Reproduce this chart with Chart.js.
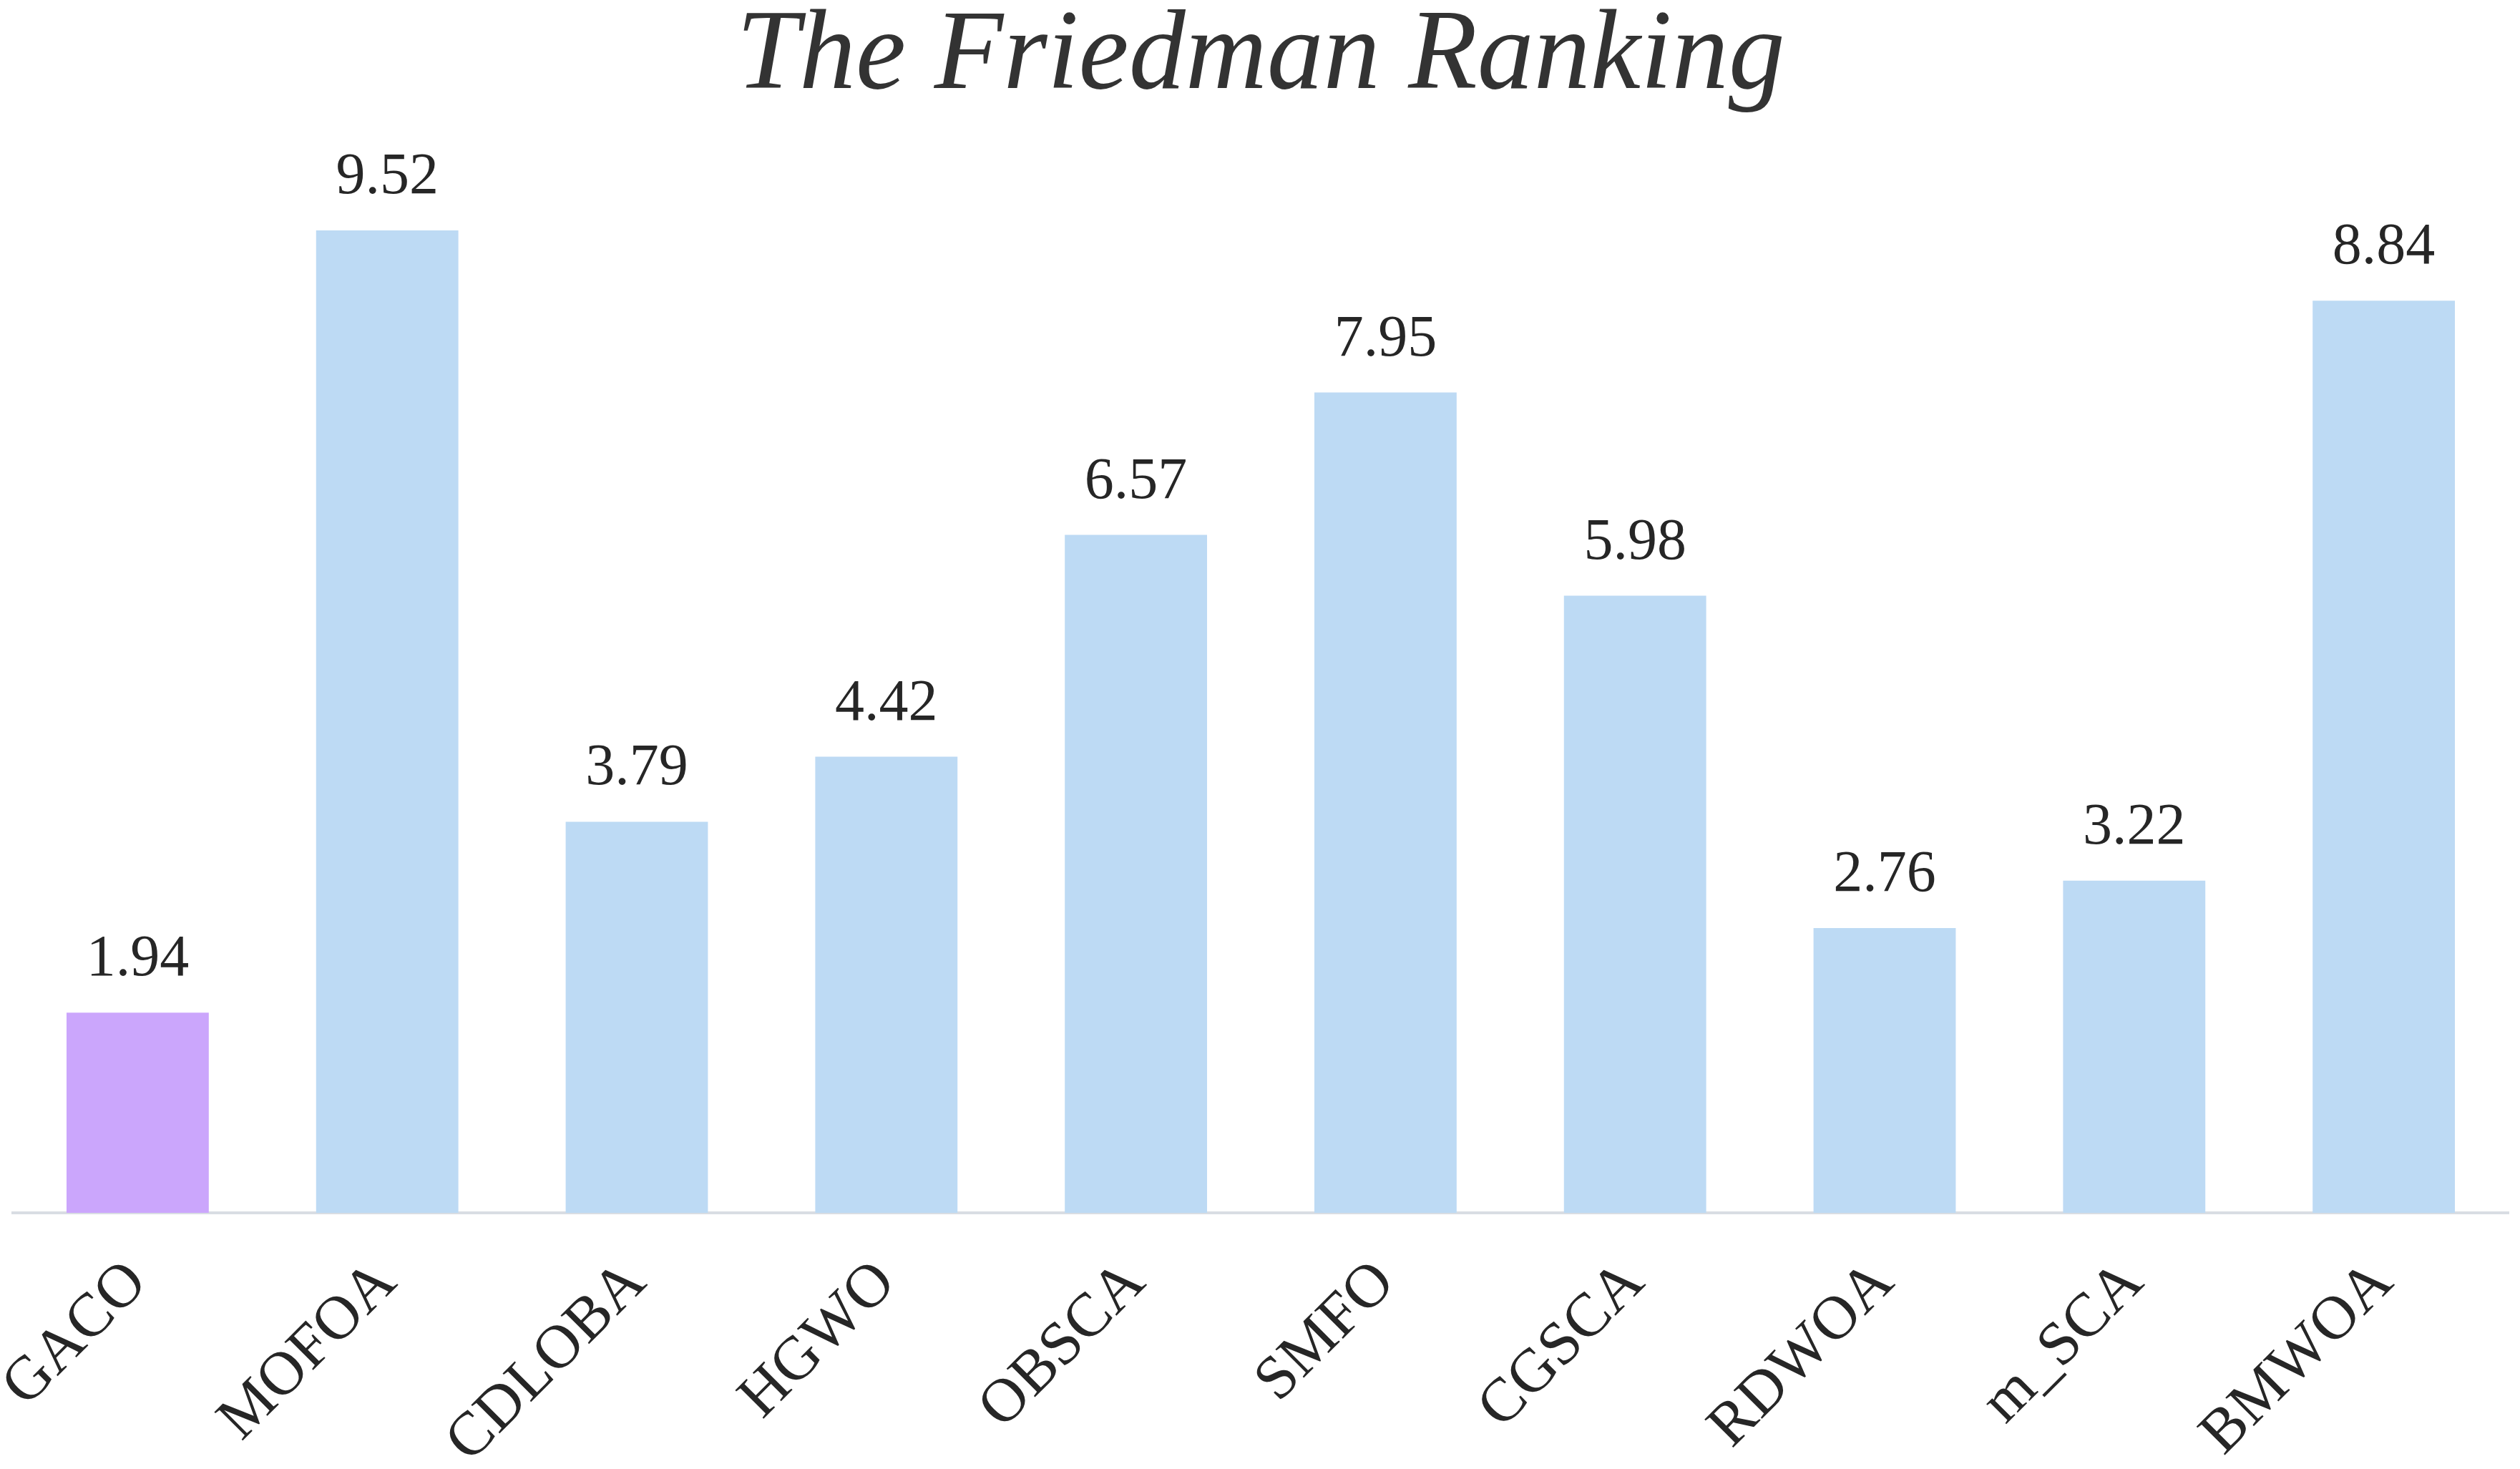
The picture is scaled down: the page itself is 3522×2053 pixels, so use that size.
<!DOCTYPE html>
<html>
<head>
<meta charset="utf-8">
<script src="https://cdn.jsdelivr.net/npm/chart.js@4.4.1/dist/chart.umd.min.js"></script>
<style>
  html, body { margin: 0; padding: 0; background: #ffffff; }
  #wrap { width: 3522px; height: 2053px; position: relative; }
</style>
</head>
<body>
<div id="wrap"><canvas id="c" width="3522" height="2053"></canvas></div>
<script>
const categories = ["GACO", "MOFOA", "CDLOBA", "HGWO", "OBSCA", "SMFO", "CGSCA", "RDWOA", "m_SCA", "BMWOA"];
const rankValues = [1.94, 9.52, 3.79, 4.42, 6.57, 7.95, 5.98, 2.76, 3.22, 8.84];
const highlightName = "GACO";
const titleText = "The Friedman Ranking";

const purple = "#CBA6FC";
const blue = "#BDDAF4";
const textColor = "#262626";

const valueLabels = {
  id: "valueLabels",
  afterDatasetsDraw(chart) {
    const ctx = chart.ctx;
    const meta = chart.getDatasetMeta(0);
    ctx.save();
    ctx.font = "82px 'Liberation Serif', 'Times New Roman', serif";
    ctx.fillStyle = textColor;
    ctx.textAlign = "center";
    ctx.textBaseline = "alphabetic";
    meta.data.forEach((bar, i) => {
      ctx.fillText(rankValues[i].toFixed(2), bar.x, bar.y - 52);
    });
    ctx.restore();
  }
};

new Chart(document.getElementById("c"), {
  type: "bar",
  data: {
    labels: categories,
    datasets: [{
      data: rankValues,
      backgroundColor: categories.map(c => c === highlightName ? purple : blue),
      borderWidth: 0,
      categoryPercentage: 1.0,
      barPercentage: 0.57
    }]
  },
  options: {
    responsive: false,
    animation: false,
    devicePixelRatio: 1,
    layout: { padding: { left: 18, right: 16, top: 0, bottom: 0 } },
    plugins: {
      legend: { display: false },
      tooltip: { enabled: false },
      title: {
        display: true,
        text: titleText,
        color: "#333333",
        font: { family: "'Liberation Serif', 'Times New Roman', serif", size: 158, style: "italic", weight: "normal", lineHeight: 0.9 },
        padding: { top: 10, bottom: 105 }
      }
    },
    scales: {
      x: {
        grid: { display: false },
        border: { display: true, color: "#D9DDE3", width: 4 },
        ticks: {
          color: textColor,
          font: { family: "'Liberation Serif', 'Times New Roman', serif", size: 86 },
          minRotation: 45,
          maxRotation: 45,
          padding: 40
        },
        afterFit(scale) {
          scale.height = 358;
          scale.paddingLeft = 0;
          scale.paddingRight = 0;
        }
      },
      y: {
        display: false,
        min: 0,
        max: 9.97
      }
    }
  },
  plugins: [valueLabels]
});
</script>
</body>
</html>
